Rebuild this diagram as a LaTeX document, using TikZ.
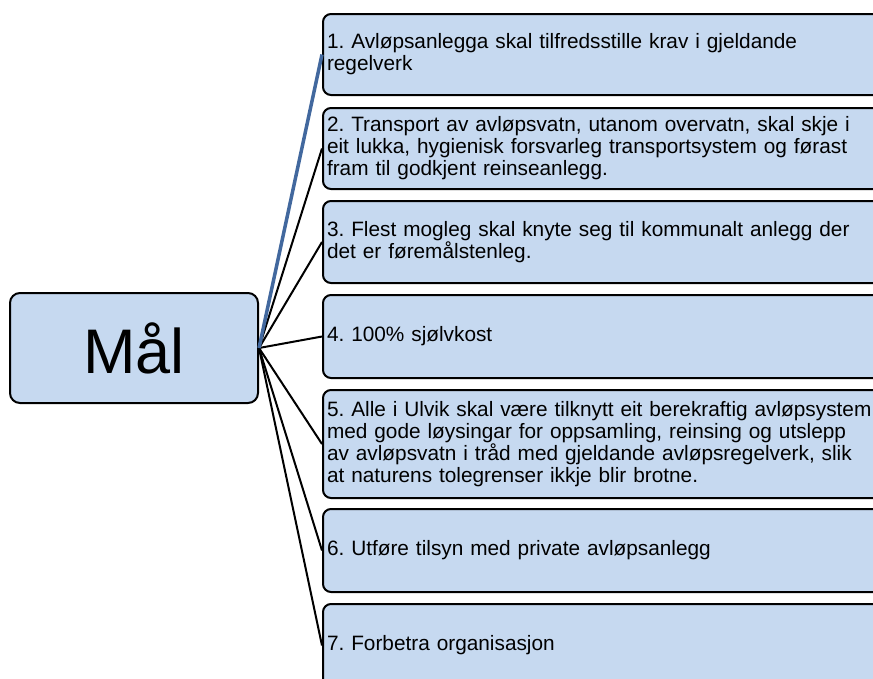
\documentclass[tikz,border=0pt]{standalone}
\usepackage{fontspec}
\setmainfont{Liberation Sans}
\frenchspacing
\definecolor{boxfill}{RGB}{198,217,240}
\definecolor{linkblue}{RGB}{66,104,158}
\begin{document}
\begin{tikzpicture}[x=1pt, y=-1pt,
    goal/.style={draw=black, line width=2pt, fill=boxfill, rounded corners=10pt,
        minimum width=248pt, minimum height=110pt, font=\fontsize{63}{68}\selectfont},
    item/.style={draw=black, line width=2pt, fill=boxfill, rounded corners=8pt,
        anchor=north west, text width=592pt, inner xsep=4pt, align=left,
        font=\fontsize{20.8}{22}\selectfont},
    link/.style={line width=2pt, black}]
    \useasboundingbox (0,0) rectangle (873,678);
    \clip (0,0) rectangle (873,678);
    \node[goal] (maal) at (134,348) {Mål};
    % boksane til høgre, same venstrekant
    \node[item, minimum height=81pt] (b1) at (322,13)
        {1. Avløpsanlegga skal tilfredsstille krav i gjeldande\\regelverk};
    \node[item, minimum height=81pt] (b2) at (322,107)
        {2. Transport av avløpsvatn, utanom overvatn, skal skje i\\eit lukka, hygienisk forsvarleg transportsystem og førast\\fram til godkjent reinseanlegg.};
    \node[item, minimum height=82pt] (b3) at (322,200)
        {3. Flest mogleg skal knyte seg til kommunalt anlegg der\\det er føremålstenleg.};
    \node[item, minimum height=83pt] (b4) at (322,294)
        {4. 100\% sjølvkost};
    \node[item, minimum height=108pt] (b5) at (322,389)
        {5. Alle i Ulvik skal være tilknytt eit berekraftig avløpsystem\\med gode løysingar for oppsamling, reinsing og utslepp\\av avløpsvatn i tråd med gjeldande avløpsregelverk, slik\\at naturens tolegrenser ikkje blir brotne.};
    \node[item, minimum height=83pt] (b6) at (322,508)
        {6. Utføre tilsyn med private avløpsanlegg};
    \node[item, minimum height=83pt] (b7) at (322,603)
        {7. Forbetra organisasjon};
    \foreach \k in {2,...,7}
        \draw[link] (maal.east) -- (b\k.west);
    \draw[line width=3.5pt, linkblue] (maal.east) -- (b1.west);
\end{tikzpicture}
\end{document}
